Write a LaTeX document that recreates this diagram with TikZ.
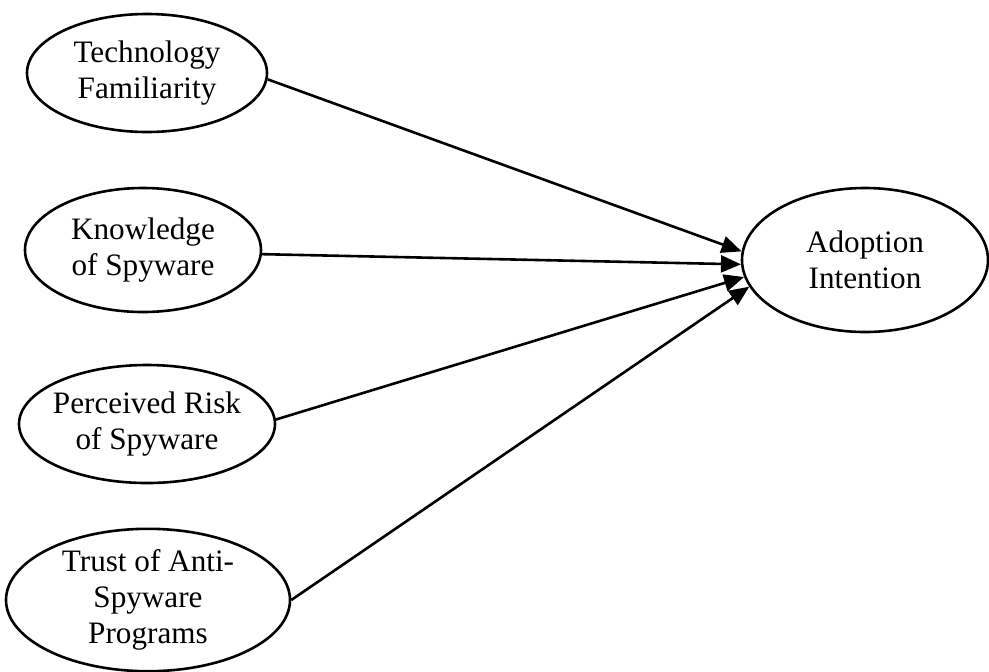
\documentclass[tikz,border=0pt]{standalone}
\usepackage{fontspec}
\setmainfont{Liberation Serif}
\usetikzlibrary{shapes.geometric,arrows.meta}
\begin{document}
\begin{tikzpicture}[x=0.5pt,y=-0.5pt,
  construct/.style={draw,ellipse,line width=1.3pt,inner sep=0pt,align=center,
    font=\fontsize{15.6}{18}\selectfont},
  path/.style={line width=1.3pt,-{Triangle[length=10pt,width=8.5pt]}}]
\useasboundingbox (0,0) rectangle (989,671);
\node[construct,minimum width=120pt,minimum height=59pt] (tf) at (147,73) {Technology\\Familiarity};
\node[construct,minimum width=118pt,minimum height=62pt] (kn) at (143,250) {Knowledge\\of Spyware};
\node[construct,inner xsep=-3pt,minimum width=128pt,minimum height=59pt] (pr) at (147,424) {Perceived Risk\\of Spyware};
\node[construct,minimum width=142pt,minimum height=70pt] (tr) at (148,600) {Trust of Anti-\\Spyware\\Programs};
\node[construct,minimum width=123pt,minimum height=72pt] (ad) at (865,260) {Adoption\\Intention};
\draw[path] (tf.-3) -- (ad.176);
\draw[path] (kn.-2) -- (ad.182);
\draw[path] (pr.2) -- (ad.188);
\draw[path] (tr.east) -- (ad.193);
\end{tikzpicture}
\end{document}
